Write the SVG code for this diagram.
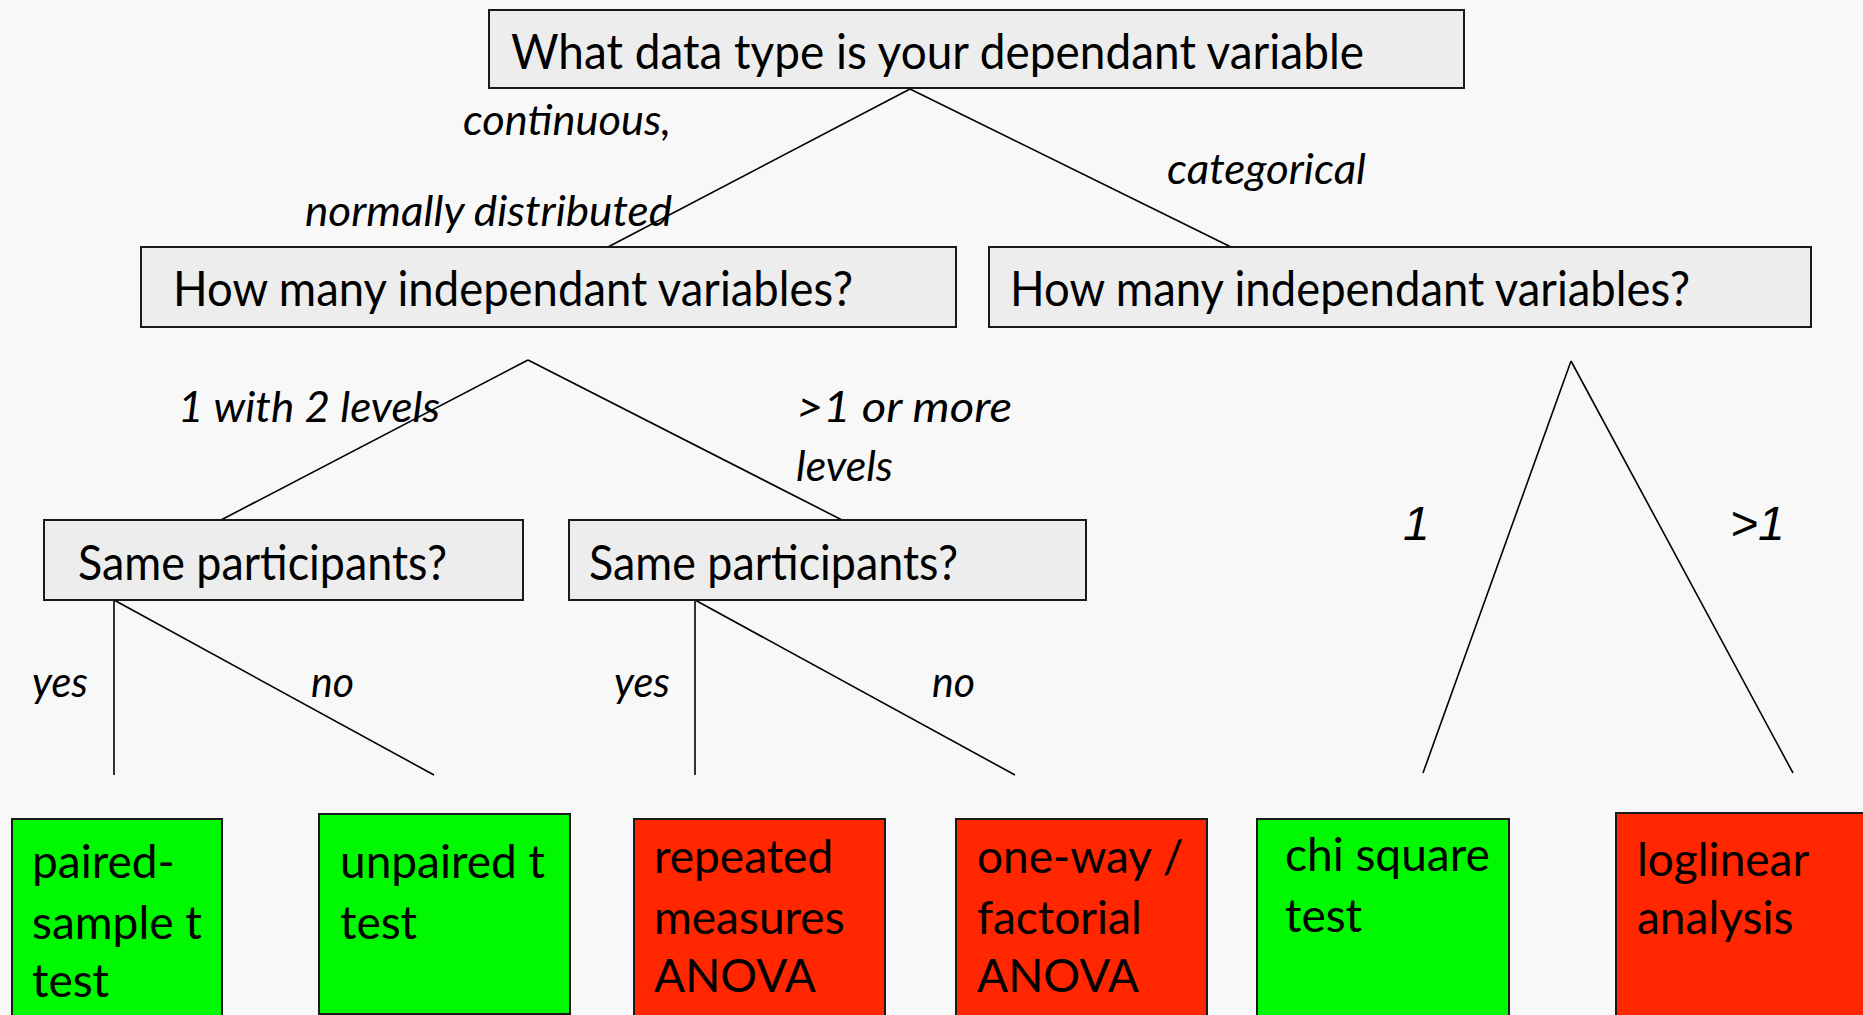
<svg xmlns="http://www.w3.org/2000/svg" width="1863" height="1015" viewBox="0 0 1863 1015">
  <style>
    .q { fill: #ededed; stroke: #1a1a1a; stroke-width: 2; }
    .g { fill: #00f900; stroke: #1a1a1a; stroke-width: 2; }
    .r { fill: #ff2600; stroke: #1a1a1a; stroke-width: 2; }
    .qt { font-family: Lato, "Open Sans", sans-serif; font-size: 49px; fill: #000; }
    .rt { font-family: Lato, "Open Sans", sans-serif; font-size: 46px; fill: #000; }
    .lb { font-family: Lato, "Open Sans", sans-serif; font-style: italic; font-size: 43px; fill: #000; }
    .nb { font-family: "Liberation Sans", Arial, sans-serif; font-style: italic; font-size: 48px; fill: #000; }
    .conn line { stroke: #000; stroke-width: 1.6; }
  </style>
  <rect width="1863" height="1015" fill="#f8f8f8"/>

  <!-- branches -->
  <g class="conn" id="connectors">
    <line x1="910" y1="89" x2="608" y2="247"/>
    <line x1="910" y1="89" x2="1231" y2="247"/>
    <line x1="528" y1="360" x2="221" y2="520"/>
    <line x1="528" y1="360" x2="842" y2="520"/>
    <line x1="114" y1="600" x2="114" y2="775"/>
    <line x1="114" y1="600" x2="434" y2="775"/>
    <line x1="695" y1="600" x2="695" y2="775"/>
    <line x1="695" y1="600" x2="1015" y2="775"/>
    <line x1="1571" y1="361" x2="1423" y2="773"/>
    <line x1="1571" y1="361" x2="1793" y2="773"/>
  </g>

  <!-- branch labels -->
  <g id="labels">
    <text class="lb" x="463" y="135" textLength="208" lengthAdjust="spacingAndGlyphs">continuous,</text>
    <text class="lb" x="305" y="226" textLength="367" lengthAdjust="spacingAndGlyphs">normally distributed</text>
    <text class="lb" x="1167" y="184" textLength="199" lengthAdjust="spacingAndGlyphs">categorical</text>
    <text class="lb" x="178" y="422" textLength="262" lengthAdjust="spacingAndGlyphs">1 with 2 levels</text>
    <text class="lb" x="796" y="422" textLength="216" lengthAdjust="spacingAndGlyphs">&gt;1 or more</text>
    <text class="lb" x="796" y="481" textLength="97" lengthAdjust="spacingAndGlyphs">levels</text>
    <text class="lb" x="32" y="697" textLength="56" lengthAdjust="spacingAndGlyphs">yes</text>
    <text class="lb" x="311" y="697" textLength="43" lengthAdjust="spacingAndGlyphs">no</text>
    <text class="lb" x="614" y="697" textLength="56" lengthAdjust="spacingAndGlyphs">yes</text>
    <text class="lb" x="932" y="697" textLength="43" lengthAdjust="spacingAndGlyphs">no</text>
    <text class="nb" x="1403" y="540">1</text>
    <text class="nb" x="1730" y="540">&gt;1</text>
  </g>

  <!-- question nodes -->
  <g id="q-root">
    <rect class="q" x="489" y="10" width="975" height="78"/>
    <text class="qt" x="511" y="69" textLength="853" lengthAdjust="spacingAndGlyphs">What data type is your dependant variable</text>
  </g>
  <g id="q-indep-cont">
    <rect class="q" x="141" y="247" width="815" height="80"/>
    <text class="qt" x="173" y="306" textLength="680" lengthAdjust="spacingAndGlyphs">How many independant variables?</text>
  </g>
  <g id="q-indep-cat">
    <rect class="q" x="989" y="247" width="822" height="80"/>
    <text class="qt" x="1010" y="306" textLength="680" lengthAdjust="spacingAndGlyphs">How many independant variables?</text>
  </g>
  <g id="q-same-two">
    <rect class="q" x="44" y="520" width="479" height="80"/>
    <text class="qt" x="78" y="580" textLength="369" lengthAdjust="spacingAndGlyphs">Same participants?</text>
  </g>
  <g id="q-same-more">
    <rect class="q" x="569" y="520" width="517" height="80"/>
    <text class="qt" x="589" y="580" textLength="369" lengthAdjust="spacingAndGlyphs">Same participants?</text>
  </g>

  <!-- result nodes -->
  <g id="t-paired">
    <rect class="g" x="12" y="819" width="210" height="220"/>
    <text class="rt" x="32" y="878">paired-</text>
    <text class="rt" x="32" y="939">sample t</text>
    <text class="rt" x="32" y="997">test</text>
  </g>
  <g id="t-unpaired">
    <rect class="g" x="319" y="814" width="251" height="200"/>
    <text class="rt" x="340" y="878">unpaired t</text>
    <text class="rt" x="340" y="939">test</text>
  </g>
  <g id="t-rm-anova">
    <rect class="r" x="634" y="819" width="251" height="220"/>
    <text class="rt" x="654" y="873">repeated</text>
    <text class="rt" x="654" y="934">measures</text>
    <text class="rt" x="654" y="992">ANOVA</text>
  </g>
  <g id="t-anova">
    <rect class="r" x="956" y="819" width="251" height="220"/>
    <text class="rt" x="977" y="873">one-way /</text>
    <text class="rt" x="977" y="934">factorial</text>
    <text class="rt" x="977" y="992">ANOVA</text>
  </g>
  <g id="t-chi">
    <rect class="g" x="1257" y="819" width="252" height="220"/>
    <text class="rt" x="1285" y="871">chi square</text>
    <text class="rt" x="1285" y="932">test</text>
  </g>
  <g id="t-loglinear">
    <rect class="r" x="1616" y="813" width="260" height="220"/>
    <text class="rt" x="1637" y="876">loglinear</text>
    <text class="rt" x="1637" y="934">analysis</text>
  </g>
</svg>
